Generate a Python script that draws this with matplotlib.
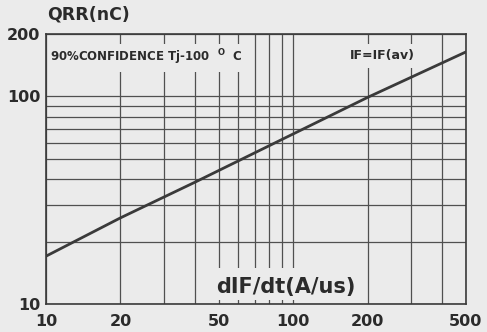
import matplotlib
matplotlib.use("Agg")
import matplotlib.pyplot as plt
from matplotlib.patches import Rectangle
from matplotlib.ticker import FixedLocator, FixedFormatter, NullFormatter

# values
didt = [10, 20, 40, 100, 200, 500]
qrr = [17.0, 26.0, 38.6, 66.0, 99.0, 164.0]

x_ticks = [10, 20, 50, 100, 200, 500]
x_minor = [30, 40, 60, 70, 80, 90, 300, 400]
y_ticks = [10, 100, 200]
y_minor = [20, 30, 40, 50, 60, 70, 80, 90]

bg = "#ebebeb"
ink = "#2b2b2b"
grid_c = "#505050"

plt.rcParams['font.family'] = ['DejaVu Sans']

fig = plt.figure(figsize=(4.87, 3.32), dpi=100, facecolor=bg)
ax = fig.add_axes([46 / 487, 28 / 332, 420 / 487, 270 / 332])
ax.set_facecolor(bg)

ax.set_xscale("log")
ax.set_yscale("log")
ax.set_xlim(10, 500)
ax.set_ylim(10, 200)

ax.plot(didt, qrr, color="#3a3a3a", lw=2.0, zorder=3)

ax.xaxis.set_major_locator(FixedLocator(x_ticks))
ax.xaxis.set_major_formatter(FixedFormatter([str(v) for v in x_ticks]))
ax.xaxis.set_minor_locator(FixedLocator(x_minor))
ax.xaxis.set_minor_formatter(NullFormatter())
ax.yaxis.set_major_locator(FixedLocator(y_ticks))
ax.yaxis.set_major_formatter(FixedFormatter([str(v) for v in y_ticks]))
ax.yaxis.set_minor_locator(FixedLocator(y_minor))
ax.yaxis.set_minor_formatter(NullFormatter())

ax.grid(True, which="both", color=grid_c, lw=0.9, zorder=1)
ax.set_axisbelow(True)
ax.tick_params(which="both", length=0, colors=ink)
ax.tick_params(axis="x", pad=7)
ax.tick_params(axis="y", pad=4)
for lab in ax.get_xticklabels() + ax.get_yticklabels():
    lab.set_fontsize(11.5)
    lab.set_fontweight("bold")
    lab.set_color(ink)

for s in ax.spines.values():
    s.set_color("#3a3a3a")
    s.set_linewidth(1.2)
    s.set_zorder(4)

# blank strips behind the labels that break the grid lines
for x0, y0, w, h in [(0.004, 0.859, 0.482, 0.105),
                     (0.712, 0.874, 0.174, 0.090),
                     (0.379, 0.015, 0.369, 0.118)]:
    ax.add_patch(Rectangle((x0, y0), w, h, transform=ax.transAxes,
                           facecolor=bg, edgecolor="none", zorder=2))

fig.text(47 / 487, 1 - 15 / 332, "QRR(nC)", fontsize=12.5, fontweight="bold",
         color=ink, ha="left", va="center")

ax.text(0.0095, 0.913, "90%CONFIDENCE Tj-100  $^{\\mathbf{O}}$  C", transform=ax.transAxes,
        fontsize=8.5, fontweight="bold", color=ink, ha="left", va="center", zorder=2.2)
ax.text(0.800, 0.922, "IF=IF(av)", transform=ax.transAxes,
        fontsize=9, fontweight="bold", color=ink, ha="center", va="center", zorder=2.2)
ax.text(0.570, 0.063, "dIF/dt(A/us)", transform=ax.transAxes,
        fontsize=15, fontweight="bold", color=ink, ha="center", va="center", zorder=2.2)

fig.savefig("out.png", dpi=100, facecolor=bg)
